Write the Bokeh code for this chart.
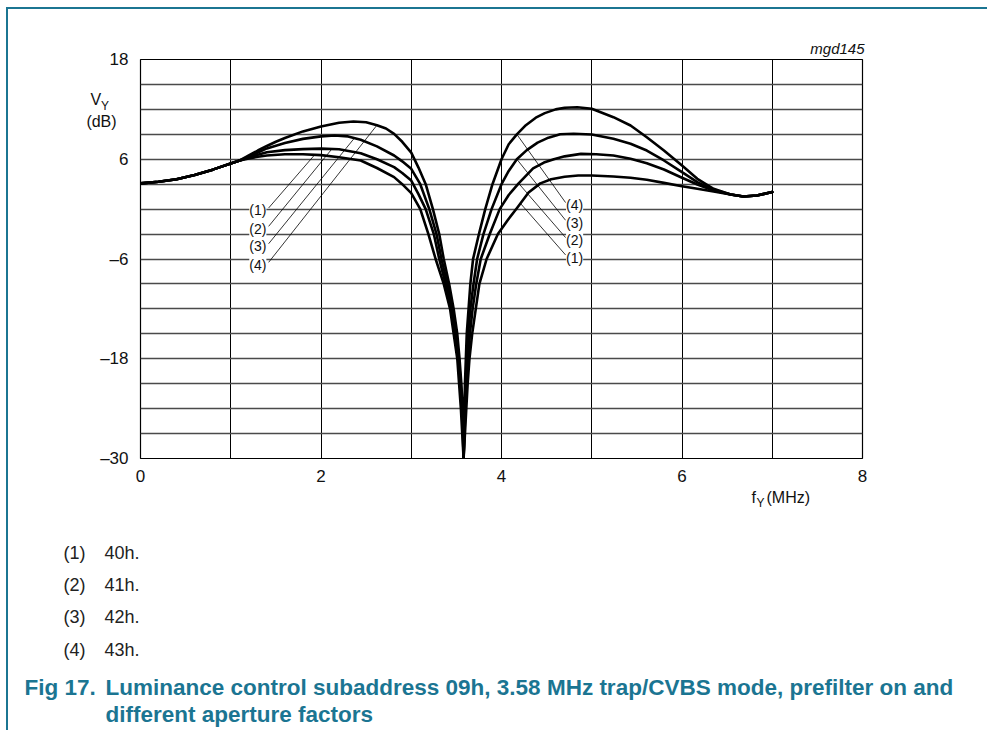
import numpy as np
from bokeh.plotting import figure
from bokeh.models import FixedTicker, Label
from bokeh.embed import file_html
from bokeh.resources import INLINE

# ---------------- data ----------------
X_TICKS = [0, 2, 4, 6, 8]
Y_TICKS = [18, 6, -6, -18, -30]
Y_TICK_LABELS = ["18", "6", "\u20136", "\u201318", "\u201330"]

SHARED_X = [0, 0.2, 0.4, 0.6, 0.8, 1.0, 1.1]
SHARED_Y = [3.1, 3.3, 3.6, 4.1, 4.75, 5.5, 5.85]
TAIL_X = [6.54, 6.68, 6.83, 7.0]
TAIL_Y = [1.76, 1.52, 1.64, 2.05]

C1_X = [1.2, 1.3, 1.4, 1.6, 1.8, 2.0, 2.2, 2.44, 2.62, 2.81, 2.9, 3.0, 3.1, 3.19, 3.27, 3.36, 3.43,
        3.47, 3.51, 3.53, 3.55, 3.565, 3.58, 3.595, 3.61, 3.625, 3.645, 3.675, 3.715, 3.755,
        3.835, 3.96, 4.07, 4.17, 4.3, 4.43, 4.55, 4.7, 4.85, 5.0, 5.24, 5.43, 5.61, 5.8, 6.0,
        6.17, 6.35]
C1_Y = [6.1, 6.3, 6.45, 6.6, 6.6, 6.5, 6.25, 5.85, 4.95, 3.85, 3.0, 1.92, 0, -3, -6, -9, -12,
        -15, -18, -21, -24, -27, -30, -27, -24, -21, -18, -15, -12, -9,
        -6, -3, -1.3, 0.1, 2.0, 3.1, 3.6, 3.9, 4.05, 4.05, 3.92, 3.77, 3.53, 3.16, 2.76,
        2.44, 2.12]

C2_X = [1.2, 1.3, 1.4, 1.6, 1.8, 2.0, 2.2, 2.44, 2.62, 2.81, 2.9, 3.0, 3.08, 3.16, 3.25, 3.31, 3.38,
        3.445, 3.49, 3.52, 3.54, 3.56, 3.572, 3.58, 3.59, 3.60, 3.615, 3.63, 3.65, 3.68, 3.72,
        3.77, 3.87, 3.98, 4.08, 4.19, 4.35, 4.47, 4.58, 4.7, 4.88, 5.05, 5.24, 5.43, 5.61, 5.8,
        6.0, 6.17, 6.35]
C2_Y = [6.2, 6.55, 6.85, 7.1, 7.22, 7.28, 7.2, 6.73, 6.0, 5.05, 4.35, 3.44, 1.8, 0, -3, -6, -9,
        -12, -15, -18, -21, -24, -27, -30, -27, -24, -21, -18, -15, -12, -9,
        -6, -3, 0, 1.7, 3.1, 4.9, 5.6, 6.0, 6.35, 6.65, 6.6, 6.45, 6.05, 5.53, 4.77,
        3.77, 2.96, 2.24]

C3_X = [1.2, 1.3, 1.4, 1.6, 1.8, 2.0, 2.15, 2.3, 2.44, 2.62, 2.81, 2.9, 3.0, 3.10, 3.20, 3.28, 3.335,
        3.40, 3.455, 3.50, 3.527, 3.548, 3.565, 3.575, 3.58, 3.587, 3.595, 3.605, 3.615, 3.63,
        3.655, 3.69, 3.73, 3.80, 3.89, 4.0, 4.08, 4.17, 4.28, 4.4, 4.52, 4.65, 4.8, 5.0, 5.24,
        5.43, 5.61, 5.8, 6.0, 6.17, 6.35]
C3_Y = [6.3, 6.8, 7.3, 7.95, 8.45, 8.75, 8.86, 8.75, 8.34, 7.55, 6.45, 5.75, 4.85, 3, 0, -3, -6,
        -9, -12, -15, -18, -21, -24, -27, -30, -27, -24, -21, -18, -15,
        -12, -9, -6, -3, 0, 3, 4.6, 6, 7.1, 8, 8.6, 9, 9.06, 8.98, 8.46,
        7.86, 7.05, 5.85, 4.45, 3.24, 2.32]

C4_X = [1.2, 1.3, 1.4, 1.5, 1.6, 1.8, 2.0, 2.2, 2.36, 2.5, 2.62, 2.72, 2.81, 2.9, 3.0, 3.08, 3.16,
        3.24, 3.31, 3.36, 3.42, 3.47, 3.51, 3.535, 3.555, 3.57, 3.578, 3.58, 3.585, 3.59, 3.595,
        3.605, 3.615, 3.635, 3.655, 3.685, 3.75, 3.82, 3.90, 4.0, 4.08, 4.17, 4.27, 4.38, 4.48,
        4.6, 4.7, 4.84, 5.0, 5.24, 5.43, 5.61, 5.8, 6.0, 6.17, 6.35]
C4_Y = [6.45, 7.05, 7.6, 8.1, 8.55, 9.35, 9.95, 10.4, 10.55, 10.45, 10.1, 9.7, 9.06, 8.1, 6.8,
        5.0, 3, 0, -3, -6, -9, -12, -15, -18, -21, -24, -27, -30, -27, -24, -21,
        -18, -15, -12, -9, -6, -3, 0, 3, 6, 7.8, 9, 10.1, 11, 11.55,
        12, 12.2, 12.26, 12.07, 11.06, 10.06, 8.65, 7.05, 5.25, 3.65, 2.44]

CURVE_NAMES = ["(1)", "(2)", "(3)", "(4)"]
CURVE_CODES = ["40h.", "41h.", "42h.", "43h."]

# leader annotations (label positions and where the leader meets the curve)
LEFT_LABEL_X = 1.30
LEFT_LABEL_Y = [-0.16, -2.37, -4.46, -6.70]
LEFT_LEADER_X0 = 1.42
LEFT_LEADER_X1 = [1.93, 2.12, 2.37, 2.62]
RIGHT_LABEL_X = 4.81
RIGHT_LABEL_Y = [-5.86, -3.77, -1.69, 0.44]
RIGHT_LEADER_X0 = 4.71
RIGHT_LEADER_X1 = [4.21, 4.19, 4.17, 4.17]

CAPTION_NUM = "Fig 17."
CAPTION_1 = "Luminance control subaddress 09h, 3.58 MHz trap/CVBS mode, prefilter on and"
CAPTION_2 = "different aperture factors"

# ---------------- layout ----------------
FONT = "Liberation Sans"
TEAL = "#1b7592"
OX, OY = 8, 9                 # canvas origin on the page (margin + teal border)
W, H = 989 - OX, 732 - OY
FL, FT, FW, FH = 140 - OX, 59 - OY, 722, 399
FR, FB = W - FL - FW, H - FT - FH

p = figure(width=W, height=H, x_range=(0, 8), y_range=(-30, 18), output_backend="svg",
           toolbar_location=None, min_border_left=FL, min_border_right=FR,
           min_border_top=FT, min_border_bottom=FB)
p.styles = {"margin-left": "6px", "margin-top": "7px",
            "border-left": f"2px solid {TEAL}", "border-top": f"2px solid {TEAL}"}
p.outline_line_color = "black"
p.outline_line_width = 1.2
p.background_fill_color = "white"
p.border_fill_color = "white"

for ax in (p.xaxis[0], p.yaxis[0]):
    ax.axis_line_color = None
    ax.major_tick_line_color = None
    ax.minor_tick_line_color = None
    ax.major_label_text_font = FONT
    ax.major_label_text_font_size = "17px"
    ax.major_label_text_color = "#111111"
p.xaxis.ticker = FixedTicker(ticks=X_TICKS)
p.xaxis.major_label_standoff = 5
p.yaxis.ticker = FixedTicker(ticks=Y_TICKS)
p.yaxis.major_label_overrides = {t: s for t, s in zip(Y_TICKS, Y_TICK_LABELS)}
p.yaxis.major_label_standoff = 6

p.xgrid.ticker = FixedTicker(ticks=list(range(0, 9)))
p.xgrid.grid_line_color = "black"
p.xgrid.grid_line_width = 1
p.ygrid.ticker = FixedTicker(ticks=list(range(-30, 19, 3)))
p.ygrid.grid_line_color = "#4a4a4a"
p.ygrid.grid_line_width = 1.5

curves = []
for cx, cy in ((C1_X, C1_Y), (C2_X, C2_Y), (C3_X, C3_Y), (C4_X, C4_Y)):
    x = np.array(SHARED_X + cx + TAIL_X, dtype=float)
    y = np.array(SHARED_Y + cy + TAIL_Y, dtype=float)
    curves.append((x, y))
    p.line(x, y, line_color="black", line_width=2.6, line_join="round", line_cap="round")

# leader lines
for i, (x, y) in enumerate(curves):
    x1 = LEFT_LEADER_X1[i]
    p.segment(LEFT_LEADER_X0, LEFT_LABEL_Y[i] + 0.3, x1, float(np.interp(x1, x, y)),
              line_color="black", line_width=0.8)
    x1 = RIGHT_LEADER_X1[i]
    p.segment(RIGHT_LEADER_X0, RIGHT_LABEL_Y[i] + 0.35, x1, float(np.interp(x1, x, y)),
              line_color="black", line_width=0.8)

for i, name in enumerate(CURVE_NAMES):
    for lx, ly in ((LEFT_LABEL_X, LEFT_LABEL_Y[i]), (RIGHT_LABEL_X, RIGHT_LABEL_Y[i])):
        p.add_layout(Label(x=lx, y=ly, text=name, text_align="center", text_baseline="middle",
                           text_font=FONT, text_font_size="14px", text_color="#111111",
                           background_fill_color="white", padding=0))


def txt(side, px, py, s, size, align="left", color="#111111", style="normal",
        baseline="middle"):
    """Text placed at page pixel (px, py); attached to a side panel so it is not clipped."""
    p.add_layout(Label(x=px - OX, y=py - OY, x_units="canvas", y_units="canvas", text=s,
                       text_align=align, text_baseline=baseline,
                       text_font=FONT, text_font_size=size, text_color=color,
                       text_font_style=style), side)


txt("above", 862, 46, "mgd145", "15px", align="right", style="italic")
txt("left", 88, 97, "V", "16px")
txt("left", 98.5, 103, "Y", "12px")
txt("left", 99, 119, "(dB)", "16px", align="center")
txt("left", 749, 495, "f", "16px")
txt("right", 754, 500, "Y", "12px")
txt("right", 764, 495, "(MHz)", "16px")

NOTE_Y = [550, 582, 614, 647]
for i, (n, c) in enumerate(zip(CURVE_NAMES, CURVE_CODES)):
    txt("below", 61, NOTE_Y[i], n, "18px", color="#222222")
    txt("right" if i < 2 else "below", 102, NOTE_Y[i], c, "18px", color="#222222")

txt("above", 22, 685, CAPTION_NUM, "22.5px", color=TEAL, style="bold")
txt("below", 103, 685, CAPTION_1, "22.5px", color=TEAL, style="bold")
txt("below", 103, 712, CAPTION_2, "22.5px", color=TEAL, style="bold")

open("out.html", "w").write(file_html(p, INLINE))
